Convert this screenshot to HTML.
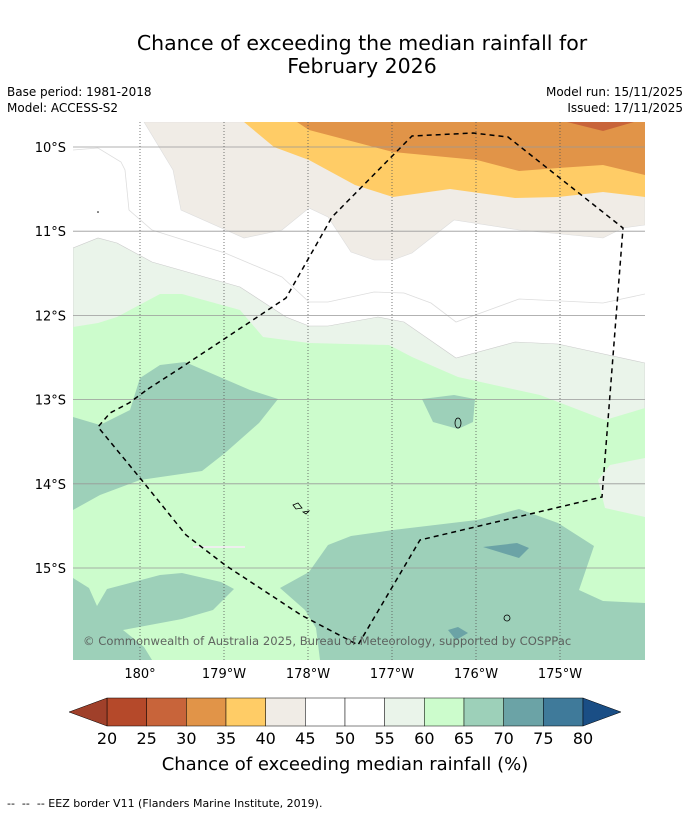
<!DOCTYPE html>
<html><head><meta charset="utf-8"><style>
body{margin:0;background:#fff;width:690px;height:816px;overflow:hidden;font-family:"Liberation Sans","DejaVu Sans",sans-serif}
</style></head><body>
<svg id="svg" width="690" height="816" xmlns="http://www.w3.org/2000/svg" font-family="DejaVu Sans, Liberation Sans, sans-serif">
<rect width="690" height="816" fill="#fff"/>
<text x="362" y="50" font-size="20.5" text-anchor="middle">Chance of exceeding the median rainfall for</text>
<text x="362" y="73" font-size="20.5" text-anchor="middle">February 2026</text>
<text x="7" y="96" font-size="12">Base period: 1981-2018</text>
<text x="7" y="112" font-size="12">Model: ACCESS-S2</text>
<text x="683" y="96" font-size="12" text-anchor="end">Model run: 15/11/2025</text>
<text x="683" y="112" font-size="12" text-anchor="end">Issued: 17/11/2025</text>
<defs><clipPath id="mc"><rect x="73" y="122" width="572" height="538"/></clipPath></defs>
<g clip-path="url(#mc)">
<rect x="73" y="122" width="572" height="538" fill="#fff"/>
<polygon fill="#f0ece6" stroke="#ddd" stroke-width="0.6" points="144,122 173,170 181,210 244,238 282,230 309,208 328,217 351,252 374,260 393,260 412,253 454,220 519,230 603,238 623,228 645,225 645,122"/>
<polygon fill="#ffcc66" points="244,122 274,147 309,160 355,185 393,197 450,189 515,198 558,197 603,192 645,197 645,122"/>
<polygon fill="#e19448" points="297,122 309,130 393,152 477,160 519,171 558,168 603,165 645,175 645,122"/>
<polygon fill="#c8643a" points="567,122 603,131 634,122"/>
<polyline fill="none" stroke="#ddd" stroke-width="0.8" points="73,150 98,148 121,162 125,170 129,210 152,230 225,253 282,277 309,302 328,302 374,292 404,293 431,303 456,322 519,299 603,303 645,294"/>
<polygon fill="#eaf4ea" stroke="#ccc" stroke-width="0.6" points="73,248 98,238 117,243 152,262 240,287 286,317 309,326 328,326 378,317 404,322 456,358 515,342 558,344 645,363 645,660 73,660"/>
<polygon fill="#ccfccc" points="73,327 98,323 117,317 160,294 182,294 240,310 263,337 309,343 389,345 412,357 458,377 540,395 605,420 645,408 645,660 73,660"/>
<polygon fill="#eaf4ea" points="645,458 610,465 598,480 605,508 645,517"/>
<polygon fill="#9dd0b9" points="73,417 100,425 130,410 140,378 160,365 185,362 250,390 278,399 259,423 225,453 202,471 140,480 100,495 73,510"/>
<polygon fill="#9dd0b9" points="422,399 454,395 475,399 473,422 458,429 433,422"/>
<polygon fill="#9dd0b9" points="73,578 89,588 97,606 107,589 160,575 182,573 221,582 234,589 213,610 182,619 123,630 144,647 152,660 73,660"/>
<polygon fill="#9dd0b9" points="280,588 309,572 328,545 351,536 393,530 477,520 519,509 558,523 594,546 579,590 603,601 645,603 645,660 320,660 316,628 305,610"/>
<polygon fill="#6ba3a6" points="483,547 517,543 529,548 519,558"/>
<polygon fill="#6ba3a6" points="448,630 458,627 468,633 456,640"/>
<line x1="193" y1="547" x2="245" y2="547" stroke="#eee" stroke-width="2"/>
<g id="grid"></g>
<g fill="none" stroke="#000" stroke-width="0.8">
<ellipse cx="458" cy="423" rx="3" ry="5"/>
<path d="M293,505 l5,-2 l4,5 l-6,1z"/>
<path d="M303,512 l6,-1 l-3,3z"/>
<circle cx="507" cy="618" r="3"/>
</g>
<circle cx="98" cy="212" r="0.8" fill="#000"/>
<polyline fill="none" stroke="#000" stroke-width="1.5" stroke-dasharray="5,4" points="148,389 182,367 286,298 332,217 412,136 473,133 508,137 623,228 602,497 420,540 358,645 343,637 301,615 225,565 186,535 140,478 98,427 110,413 129,403 148,389"/>
<text x="83" y="645" font-size="11.6" fill="#555" opacity="0.9">© Commonwealth of Australia 2025, Bureau of Meteorology, supported by COSPPac</text>
</g>
<g id="axes"></g>
<g id="cbar"></g>
<text x="345" y="770" font-size="18" text-anchor="middle">Chance of exceeding median rainfall (%)</text>
<text x="7" y="807" font-size="11" xml:space="preserve">--  --  -- EEZ border V11 (Flanders Marine Institute, 2019).</text>
</svg>
<script>
const latTicks=[10,11,12,13,14,15];
const latLabels=["10°S","11°S","12°S","13°S","14°S","15°S"];
const lonTicks=[180,181,182,183,184,185];
const lonLabels=["180°","179°W","178°W","177°W","176°W","175°W"];
const cbLevels=[20,25,30,35,40,45,50,55,60,65,70,75,80];
const cbColors=["#b5492a","#c8643a","#e19448","#ffcc66","#f0ece6","#ffffff","#ffffff","#eaf4ea","#ccfccc","#9dd0b9","#6ba3a6","#3f7a9a"];
const NS="http://www.w3.org/2000/svg";
const yLat=l=>147+(l-10)*84.2;
const xLon=l=>140+(l-180)*84;
function mk(t,a,p){const e=document.createElementNS(NS,t);for(const k in a)e.setAttribute(k,a[k]);p.appendChild(e);return e;}
const grid=document.getElementById('grid'),axes=document.getElementById('axes');
latTicks.forEach((v,i)=>{
 const l=mk('line',{x1:73,x2:645,y1:yLat(v),y2:yLat(v),stroke:'#999','stroke-width':0.8},grid);
 
 
 const t=mk('text',{x:66,y:yLat(v)+5,'font-size':13,'text-anchor':'end'},axes);t.textContent=latLabels[i];
 
 
});
lonTicks.forEach((v,i)=>{
 const l=mk('line',{x1:xLon(v),x2:xLon(v),y1:122,y2:660,stroke:'#555','stroke-width':0.8,'stroke-dasharray':'1,2'},grid);
 
 
 const t=mk('text',{x:xLon(v),y:678,'font-size':13,'text-anchor':'middle'},axes);t.textContent=lonLabels[i];
 
 
});
const cb=document.getElementById('cbar');
const cx0=107,cx1=583,cy=698,ch=28;
const cxv=v=>cx0+(v-20)/60*(cx1-cx0);
cbColors.forEach((c,i)=>{
 const r=mk('rect',{x:cxv(cbLevels[i]),y:cy,width:cxv(cbLevels[i+1])-cxv(cbLevels[i]),height:ch,fill:c,stroke:'#000','stroke-width':0.5},cb);
 
 
});
const tl=mk('polygon',{points:`${cx0},${cy} 69,${cy+ch/2} ${cx0},${cy+ch}`,fill:'#a0402a',stroke:'#000','stroke-width':0.5},cb);


const tr=mk('polygon',{points:`${cx1},${cy} 621,${cy+ch/2} ${cx1},${cy+ch}`,fill:'#1a4e85',stroke:'#000','stroke-width':0.5},cb);


cbLevels.forEach(v=>{
 const t=mk('text',{x:cxv(v),y:744,'font-size':16,'text-anchor':'middle'},cb);t.textContent=v;
 
 
});
</script>
</body></html>
